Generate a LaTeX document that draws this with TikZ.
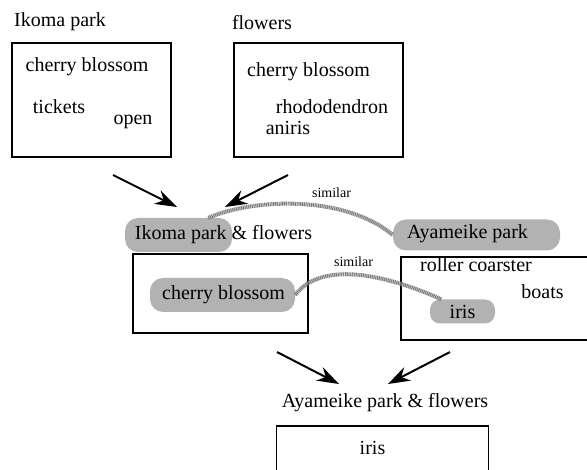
\documentclass[tikz,border=0pt]{standalone}
\usepackage{fontspec}
\setmainfont{Liberation Serif}
\usetikzlibrary{arrows.meta}
\begin{document}
\begin{tikzpicture}[x=1pt,y=-1pt,
  txt/.style={inner sep=0pt,font=\fontsize{20}{22}\selectfont},
  sim/.style={inner sep=0pt,font=\fontsize{14}{16}\selectfont},
  box/.style={draw,line width=1.6pt,inner sep=0pt},
  hl/.style={fill=black!30,rounded corners=13pt,inner sep=0pt},
  squig/.style={draw=black!50,line width=4pt,dash pattern=on 1.2pt off 0.6pt},
  arr/.style={line width=2pt,-{Stealth[length=22pt,width=15pt]}}]
\useasboundingbox (0,0) rectangle (587,470);
% top boxes
\node[txt] (l1) at (60,22) {Ikoma park};
\node[box,minimum width=159pt,minimum height=114pt] (b1) at (91.5,100) {};
\node[txt] (t11) at (87,67) {cherry blossom};
\node[txt] (t12) at (59,107) {tickets};
\node[txt] (t13) at (133,122) {open};
\node[txt] (l2) at (262,23) {flowers};
\node[box,minimum width=169pt,minimum height=114pt] (b2) at (318.5,100) {};
\node[txt] (t21) at (308.5,72) {cherry blossom};
\node[txt] (t22) at (332,107) {rhododendron};
\node[txt] (t23) at (288,128) {aniris};
% arrows to middle
\coordinate (a1s) at (113,175); \coordinate (a1e) at (177,207);
\coordinate (a2s) at (288,175); \coordinate (a2e) at (225,207);
\draw[arr] (a1s) -- (a1e);
\draw[arr] (a2s) -- (a2e);
% highlights
\node[hl,minimum width=107pt,minimum height=34pt] (h1) at (178.5,235) {};
\node[hl,minimum width=167pt,minimum height=31pt] (h2) at (476.5,235) {};
\node[hl,minimum width=145pt,minimum height=34pt] (h3) at (222.5,295) {};
\node[hl,minimum width=65pt,minimum height=24pt,rounded corners=10pt] (h4) at (462.5,311.5) {};
% middle left
\node[txt] (l3) at (223.5,235) {Ikoma park \& flowers};
\node[box,minimum width=175pt,minimum height=79pt] (b3) at (220.5,293.5) {};
\node[txt] (t31) at (223.5,295) {cherry blossom};
% middle right
\node[txt] (l4) at (467.5,234) {Ayameike park};
\node[box,minimum width=200pt,minimum height=83pt,anchor=north west] (b4) at (400,256) {};
\node[txt] (t41) at (476,265) {roller coarster};
\node[txt] (t42) at (542.5,292) {boats};
\node[txt] (t43) at (462.5,312) {iris};
% similar links
\draw[squig] (h1.30) .. controls (255,198) and (345,195) .. (h2.west);
\node[sim] (s1) at (331.5,193) {similar};
\draw[squig] (h3.east) .. controls (320,262) and (380,272) .. (h4.150);
\node[sim] (s2) at (353.5,262) {similar};
% arrows to bottom
\coordinate (a3s) at (277,352); \coordinate (a3e) at (339,384);
\coordinate (a4s) at (450,352); \coordinate (a4e) at (388,384);
\draw[arr] (a3s) -- (a3e);
\draw[arr] (a4s) -- (a4e);
% bottom
\node[txt] (l5) at (385,403) {Ayameike park \& flowers};
\node[box,minimum width=212pt,minimum height=55pt,anchor=north west] (b5) at (275.5,425) {};
\node[txt] (t51) at (372.5,448) {iris};
\end{tikzpicture}
\end{document}
